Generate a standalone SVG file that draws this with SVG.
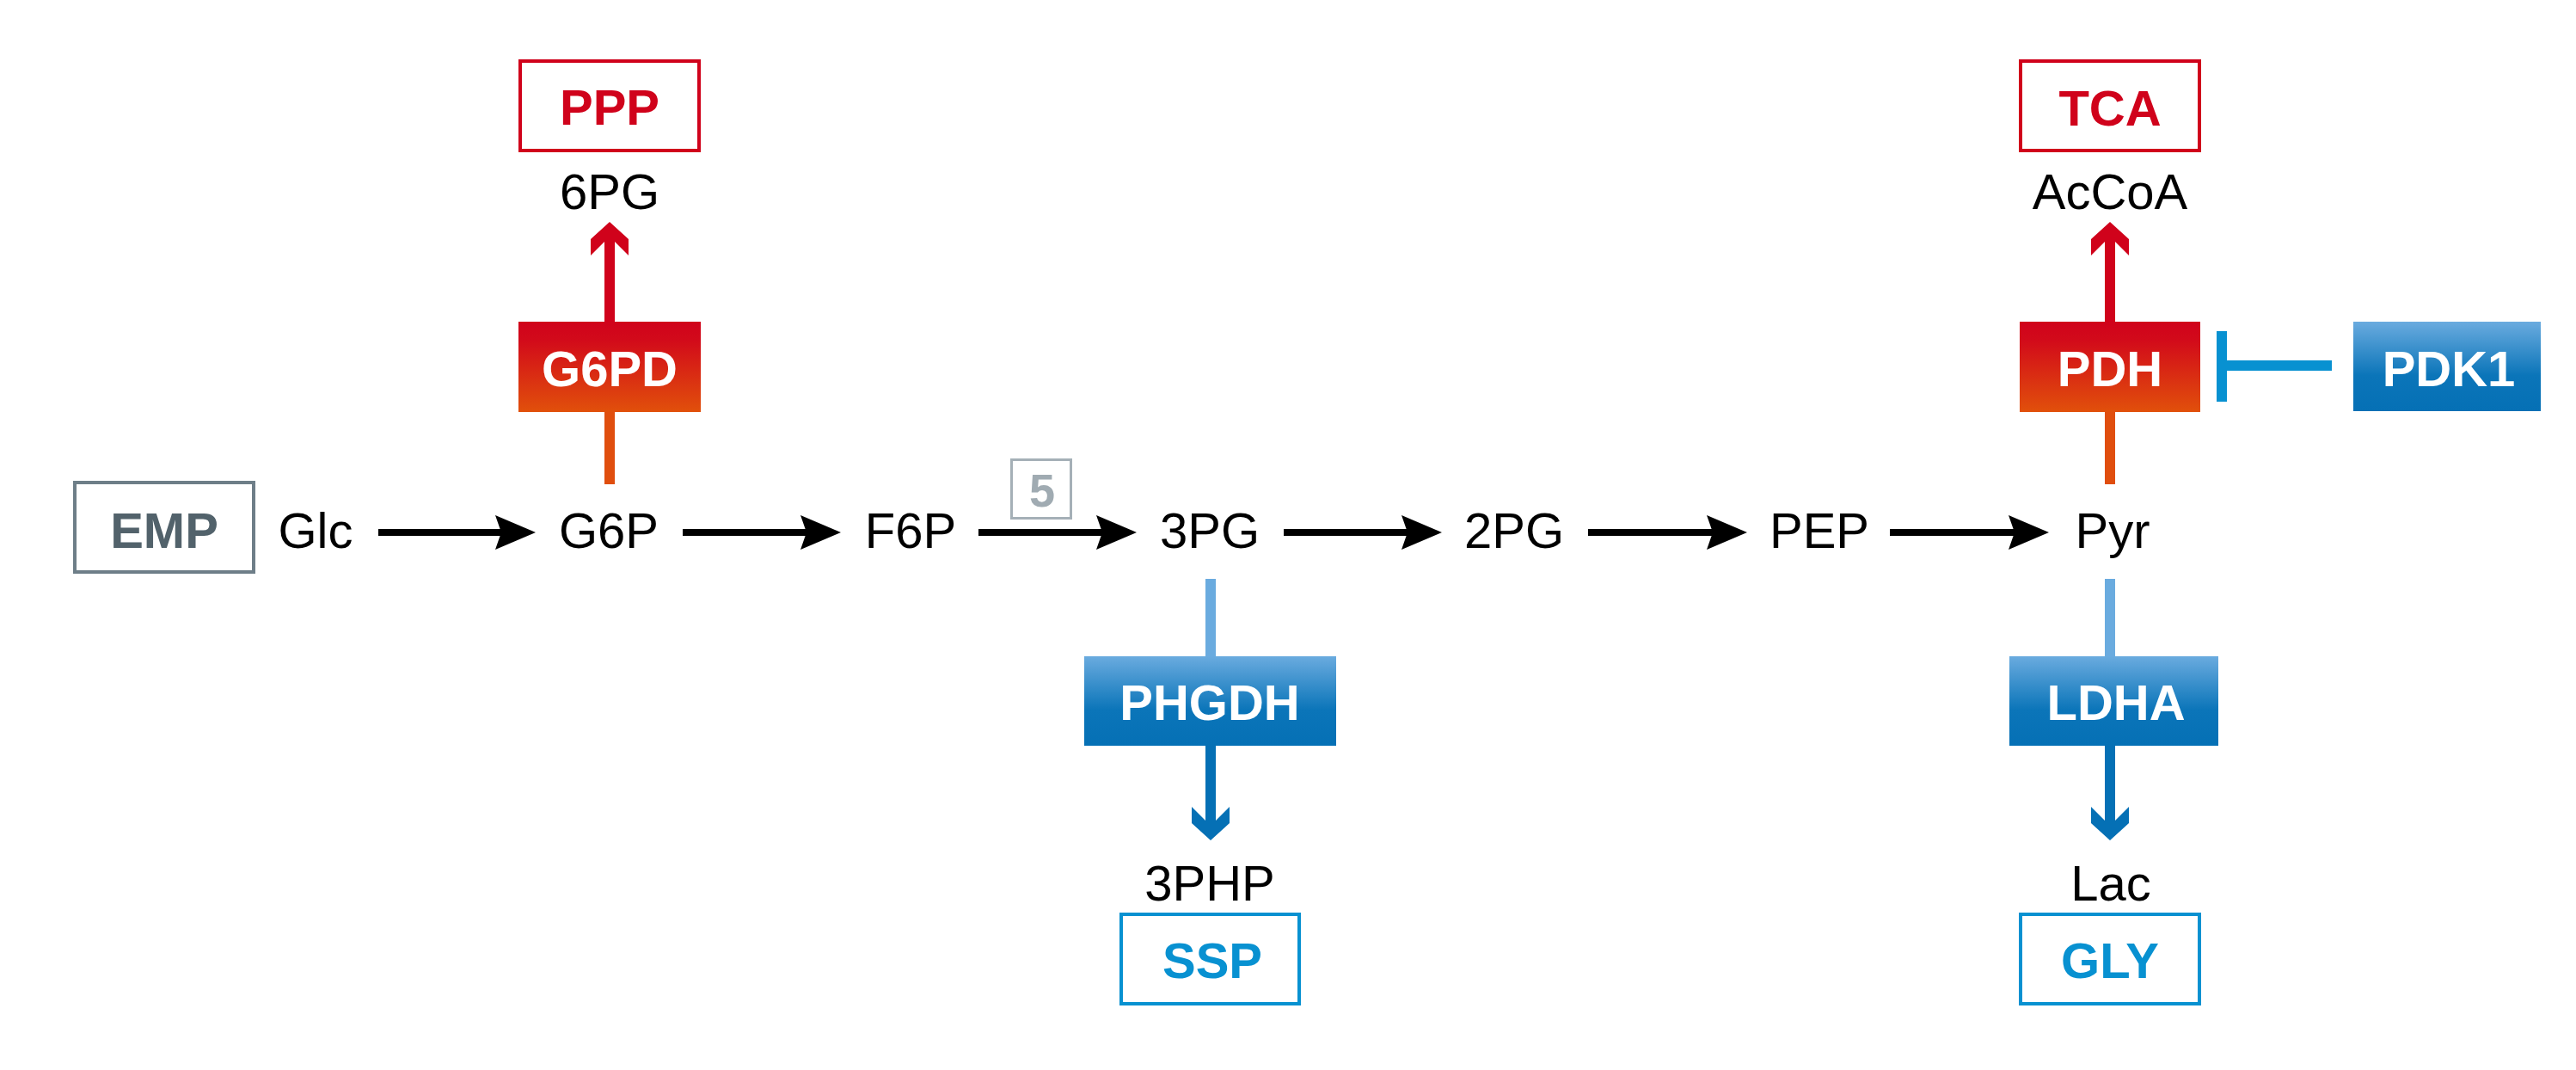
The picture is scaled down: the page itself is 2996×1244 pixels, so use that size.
<svg xmlns="http://www.w3.org/2000/svg" width="2996" height="1244" viewBox="0 0 2996 1244">
<defs>
<linearGradient id="gRed" x1="0" y1="0" x2="0" y2="1">
<stop offset="0" stop-color="#D0021B"/>
<stop offset="0.2" stop-color="#D20A1A"/>
<stop offset="1" stop-color="#E1500B"/>
</linearGradient>
<linearGradient id="gBlue" x1="0" y1="0" x2="0" y2="1">
<stop offset="0" stop-color="#6AABDF"/>
<stop offset="0.6" stop-color="#0B75B9"/>
<stop offset="1" stop-color="#0570B5"/>
</linearGradient>
<style>
text{font-family:"Liberation Sans",Arial,sans-serif;text-anchor:middle}
.met{font-size:58px;fill:#000}
.bold{font-size:58px;font-weight:bold}
.enz{font-size:58px;font-weight:bold;fill:#fff}
.redbox{fill:#fff;stroke:#D0021B;stroke-width:4}
.bluebox{fill:#fff;stroke:#0891D1;stroke-width:4}
.arr{stroke:#000;stroke-width:8;fill:none}
.head{fill:#000}
</style>
</defs>

<g id="connectors">
<!-- main chain arrows -->
<g>
<line class="arr" x1="440" y1="619" x2="590" y2="619"/>
<path class="head" d="M623,619 L576,599 L583,619 L576,639 Z"/>
<line class="arr" x1="794" y1="619" x2="945" y2="619"/>
<path class="head" d="M978,619 L931,599 L938,619 L931,639 Z"/>
<line class="arr" x1="1138" y1="619" x2="1289" y2="619"/>
<path class="head" d="M1322,619 L1275,599 L1282,619 L1275,639 Z"/>
<line class="arr" x1="1493" y1="619" x2="1644" y2="619"/>
<path class="head" d="M1677,619 L1630,599 L1637,619 L1630,639 Z"/>
<line class="arr" x1="1847" y1="619" x2="1999" y2="619"/>
<path class="head" d="M2032,619 L1985,599 L1992,619 L1985,639 Z"/>
<line class="arr" x1="2198" y1="619" x2="2350" y2="619"/>
<path class="head" d="M2383,619 L2336,599 L2343,619 L2336,639 Z"/>
</g>
<!-- G6PD branch -->
<rect x="703" y="479" width="12" height="84" fill="#E04E0E"/>
<rect x="703" y="278" width="12" height="96" fill="#D0021B"/>
<path d="M709,258 L731,278 L731,297 L715,281 L703,281 L687,297 L687,278 Z" fill="#D0021B"/>
<!-- PDH branch -->
<rect x="2448" y="479" width="12" height="84" fill="#E04E0E"/>
<rect x="2448" y="278" width="12" height="96" fill="#D0021B"/>
<path d="M2454,258 L2476,278 L2476,297 L2460,281 L2448,281 L2432,297 L2432,278 Z" fill="#D0021B"/>
<!-- PHGDH branch -->
<rect x="1402" y="673" width="12" height="90" fill="#6AABDF"/>
<rect x="1402" y="867" width="12" height="90" fill="#0570B5"/>
<path d="M1408,977 L1430,957 L1430,938 L1414,954 L1402,954 L1386,938 L1386,957 Z" fill="#0570B5"/>
<!-- LDHA branch -->
<rect x="2448" y="673" width="12" height="90" fill="#6AABDF"/>
<rect x="2448" y="867" width="12" height="90" fill="#0570B5"/>
<path d="M2454,977 L2476,957 L2476,938 L2460,954 L2448,954 L2432,938 L2432,957 Z" fill="#0570B5"/>
<!-- PDK1 inhibition -->
<rect x="2578" y="385" width="12" height="82" fill="#0891D1"/>
<rect x="2590" y="419" width="122" height="12" fill="#0891D1"/>
</g>

<g id="EMP">
<rect x="87" y="561" width="208" height="104" fill="#fff" stroke="#6E7E88" stroke-width="4"/>
<text class="bold" x="191" y="637" fill="#52626B">EMP</text>
</g>
<g id="Glc"><text class="met" x="367" y="637">Glc</text></g>
<g id="G6P"><text class="met" x="708" y="637">G6P</text></g>
<g id="F6P"><text class="met" x="1059" y="637">F6P</text></g>
<g id="step5">
<rect x="1176.5" y="534.5" width="69" height="68" fill="#fff" stroke="#A5B0B7" stroke-width="3"/>
<text x="1212" y="589" font-size="54" font-weight="bold" fill="#A0ABB2">5</text>
</g>
<g id="3PG"><text class="met" x="1407" y="637">3PG</text></g>
<g id="2PG"><text class="met" x="1761" y="637">2PG</text></g>
<g id="PEP"><text class="met" x="2116" y="637">PEP</text></g>
<g id="Pyr"><text class="met" x="2457" y="637">Pyr</text></g>

<g id="PPP">
<rect class="redbox" x="605" y="71" width="208" height="104"/>
<text class="bold" x="709" y="145" fill="#D0021B">PPP</text>
</g>
<g id="6PG"><text class="met" x="709" y="243">6PG</text></g>
<g id="G6PD">
<rect x="603" y="374" width="212" height="105" fill="url(#gRed)"/>
<text class="enz" x="709" y="449">G6PD</text>
</g>

<g id="TCA">
<rect class="redbox" x="2350" y="71" width="208" height="104"/>
<text class="bold" x="2454" y="146" fill="#D0021B">TCA</text>
</g>
<g id="AcCoA"><text class="met" x="2454" y="243">AcCoA</text></g>
<g id="PDH">
<rect x="2349" y="374" width="210" height="105" fill="url(#gRed)"/>
<text class="enz" x="2454" y="449">PDH</text>
</g>
<g id="PDK1">
<rect x="2737" y="374" width="218" height="104" fill="url(#gBlue)"/>
<text class="enz" x="2848" y="449">PDK1</text>
</g>

<g id="PHGDH">
<rect x="1261" y="763" width="293" height="104" fill="url(#gBlue)"/>
<text class="enz" x="1407" y="837">PHGDH</text>
</g>
<g id="3PHP"><text class="met" x="1407" y="1047">3PHP</text></g>
<g id="SSP">
<rect class="bluebox" x="1304" y="1063" width="207" height="104"/>
<text class="bold" x="1410" y="1137" fill="#0891D1">SSP</text>
</g>

<g id="LDHA">
<rect x="2337" y="763" width="243" height="104" fill="url(#gBlue)"/>
<text class="enz" x="2461" y="837">LDHA</text>
</g>
<g id="Lac"><text class="met" x="2455" y="1047">Lac</text></g>
<g id="GLY">
<rect class="bluebox" x="2350" y="1063" width="208" height="104"/>
<text class="bold" x="2454" y="1137" fill="#0891D1">GLY</text>
</g>
</svg>
